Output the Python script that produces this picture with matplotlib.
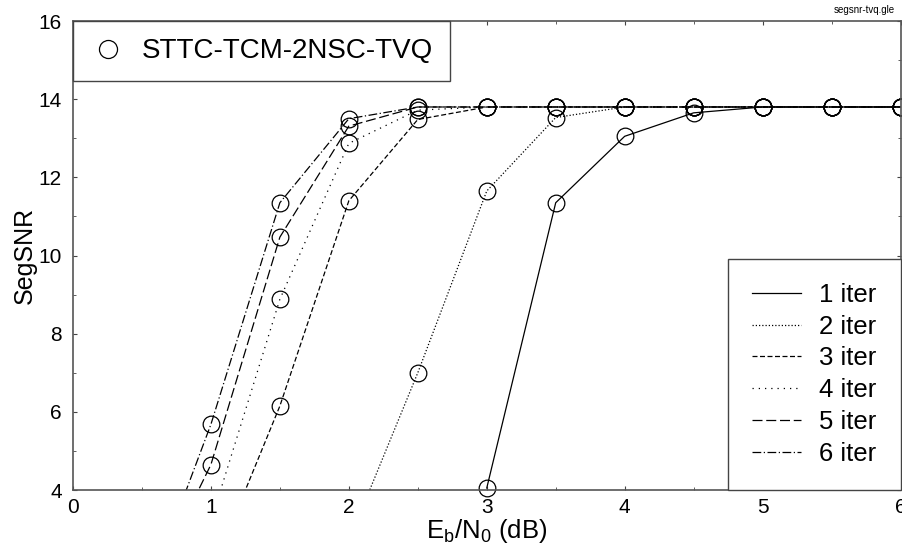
import numpy as np
import matplotlib
matplotlib.use("Agg")
import matplotlib.pyplot as plt
from matplotlib.lines import Line2D

plt.rcParams['font.family'] = ['Liberation Sans', 'DejaVu Sans']
plt.rcParams['mathtext.fontset'] = 'custom'
plt.rcParams['mathtext.rm'] = 'Liberation Sans'

# SegSNR vs Eb/N0 for each number of iterations
x_iter1 = [3.0, 3.5, 4.0, 4.5, 5.0, 5.5, 6.0]
y_iter1 = [4.05, 11.35, 13.05, 13.65, 13.8, 13.8, 13.8]
x_iter2 = [2.0, 2.5, 3.0, 3.5, 4.0, 4.5, 5.0, 5.5, 6.0]
y_iter2 = [2.7, 7.0, 11.65, 13.53, 13.8, 13.8, 13.8, 13.8, 13.8]
x_iter3 = [1.0, 1.5, 2.0, 2.5, 3.0, 3.5, 4.0, 4.5, 5.0, 5.5, 6.0]
y_iter3 = [1.85, 6.15, 11.4, 13.48, 13.8, 13.8, 13.8, 13.8, 13.8, 13.8, 13.8]
x_iter4 = [1.0, 1.5, 2.0, 2.5, 3.0, 3.5, 4.0, 4.5, 5.0, 5.5, 6.0]
y_iter4 = [3.2, 8.88, 12.87, 13.72, 13.8, 13.8, 13.8, 13.8, 13.8, 13.8, 13.8]
x_iter5 = [0.5, 1.0, 1.5, 2.0, 2.5, 3.0, 3.5, 4.0, 4.5, 5.0, 5.5, 6.0]
y_iter5 = [1.04, 4.65, 10.47, 13.31, 13.8, 13.8, 13.8, 13.8, 13.8, 13.8, 13.8, 13.8]
x_iter6 = [0.5, 1.0, 1.5, 2.0, 2.5, 3.0, 3.5, 4.0, 4.5, 5.0, 5.5, 6.0]
y_iter6 = [0.98, 5.68, 11.35, 13.5, 13.8, 13.8, 13.8, 13.8, 13.8, 13.8, 13.8, 13.8]

labels = ['1 iter', '2 iter', '3 iter', '4 iter', '5 iter', '6 iter']
styles = ['-', (0, (1, 1.6)), (0, (4, 2)), (0, (1, 4)), (0, (8, 3)), (0, (7, 2, 1, 2))]

series = [(x_iter1, y_iter1), (x_iter2, y_iter2), (x_iter3, y_iter3),
          (x_iter4, y_iter4), (x_iter5, y_iter5), (x_iter6, y_iter6)]

fig = plt.figure(figsize=(9.02, 5.49), dpi=100)
ax = fig.add_axes([73 / 902, 1 - 490 / 549, 827.5 / 902, 469 / 549])

ymin = 4
for (xs, ys), ls in zip(series, styles):
    xs = np.array(xs)
    ys = np.array(ys)
    ax.plot(xs, ys, color='black', lw=0.9, ls=ls)
    keep = ys >= ymin
    ax.plot(xs[keep], ys[keep], ls='none', marker='o', ms=12, mfc='none',
            mec='black', mew=0.9, clip_on=False)

ax.set_xlim(0, 6)
ax.set_ylim(4, 16)
ax.set_xticks(np.arange(0, 7, 1))
ax.set_xticks(np.arange(0.5, 6, 1), minor=True)
ax.set_yticks(np.arange(4, 17, 2))
ax.set_yticks(np.arange(5, 16, 2), minor=True)
ax.tick_params(which='both', direction='in', top=True, right=True,
               color='#444444', labelsize=15)
ax.tick_params(axis='x', pad=6)
ax.tick_params(axis='y', pad=8)
ax.tick_params(which='major', length=3)
ax.tick_params(which='minor', length=2)
for sp in ax.spines.values():
    sp.set_color('#555555')
    sp.set_linewidth(1.2)

ax.set_xlabel(r'E$_{\rm b}$/N$_{\rm 0}$ (dB)', fontsize=18.5, labelpad=0)
ax.set_ylabel('SegSNR', fontsize=18, labelpad=1)

# scheme legend (marker only)
h1 = [Line2D([], [], ls='none', marker='o', ms=13, mfc='none', mec='black', mew=0.9)]
leg1 = ax.legend(h1, ['STTC-TCM-2NSC-TVQ'], loc='upper left', fontsize=20,
                 frameon=True, fancybox=False, borderaxespad=0, handletextpad=0.55,
                 borderpad=0.62, handlelength=1.3, framealpha=1)
leg1.get_frame().set_edgecolor('#444444')
leg1.get_frame().set_linewidth(1.0)
ax.add_artist(leg1)

# iteration legend (line styles only)
h2 = [Line2D([], [], color='black', lw=0.9, ls=ls) for ls in styles]
leg2 = ax.legend(h2, labels, loc='lower right', fontsize=18.5, frameon=True,
                 fancybox=False, borderaxespad=0, handlelength=1.9,
                 handletextpad=0.7, labelspacing=0.3, borderpad=0.95,
                 framealpha=1)
leg2.get_frame().set_edgecolor('#444444')
leg2.get_frame().set_linewidth(1.0)

fig.text(895 / 902, 1 - 10 / 549, 'segsnr-tvq.gle', fontsize=7,
         ha='right', va='center')

fig.savefig('out.png', dpi=100)
